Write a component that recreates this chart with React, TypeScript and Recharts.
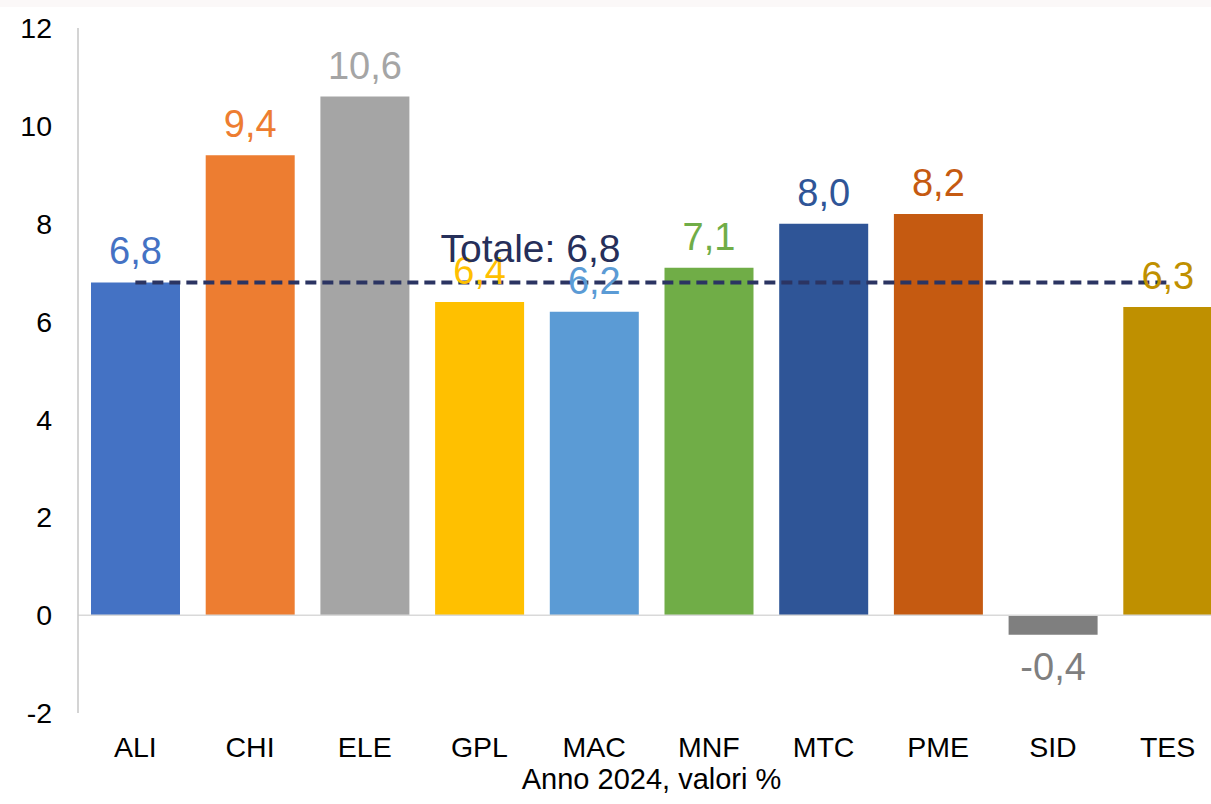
import React from "react";
import { ComposedChart, Bar, Line, Cell, XAxis, YAxis, ReferenceLine, LabelList } from "recharts";

const categories = ["ALI", "CHI", "ELE", "GPL", "MAC", "MNF", "MTC", "PME", "SID", "TES"];
const values = [6.8, 9.4, 10.6, 6.4, 6.2, 7.1, 8.0, 8.2, -0.4, 6.3];
const colors = ["#4472C4", "#ED7D31", "#A5A5A5", "#FFC000", "#5B9BD5", "#70AD47", "#2F5597", "#C55A11", "#7F7F7F", "#BF9000"];
const totale = 6.8;
const yTicks = [-2, 0, 2, 4, 6, 8, 10, 12];

const data = categories.map((name, i) => ({ name, value: values[i], totale }));

const FONT = "'Liberation Sans', Arial, sans-serif";
const fmt = (v: number) => v.toFixed(1).replace(".", ",");

function BarValueLabel(props: any) {
  const { x, y, width, height, value, index } = props;
  const top = Math.min(y, y + height);
  const bottom = Math.max(y, y + height);
  const cx = x + width / 2;
  const ty = value < 0 ? bottom + 45 : top - 18;
  return (
    <text x={cx} y={ty} textAnchor="middle" fontSize={38} fontFamily={FONT} fill={colors[index]}>
      {fmt(value)}
    </text>
  );
}

function TotaleLabel(props: any) {
  const { x, y, index } = props;
  if (index !== 3) return null;
  return (
    <text x={x + 51} y={y - 20} textAnchor="middle" fontSize={39} fontFamily={FONT} fill="#262F5A">
      {`Totale: ${fmt(totale)}`}
    </text>
  );
}

export default function App() {
  return (
    <div style={{ position: "absolute", left: 0, top: 0, width: 1211, height: 804, overflow: "hidden", background: "#fff" }}>
      <div style={{ position: "absolute", left: 0, top: 0, width: 1211, height: 7, background: "#fbf8f8" }} />
      <ComposedChart
        width={1225}
        height={804}
        data={data}
        margin={{ top: 28, right: 0, left: 0, bottom: 0 }}
        style={{ fontFamily: FONT }}
      >
        <XAxis
          dataKey="name"
          axisLine={false}
          tickLine={false}
          tickSize={0}
          tickMargin={24}
          height={91}
          interval={0}
          tick={{ fill: "#000", fontSize: 28.5, fontFamily: FONT }}
          label={{ value: "Anno 2024, valori %", position: "insideBottom", offset: 15, fill: "#000", fontSize: 29, fontFamily: FONT }}
        />
        <YAxis
          domain={[-2, 12]}
          ticks={yTicks}
          width={78}
          tickLine={false}
          tickSize={0}
          tickMargin={26}
          axisLine={{ stroke: "#c6c6c6", strokeWidth: 1.5 }}
          tick={{ fill: "#000", fontSize: 28.5, fontFamily: FONT }}
        />
        <ReferenceLine y={0} stroke="#d9d9d9" strokeWidth={1.5} />
        <Bar dataKey="value" barSize={89} isAnimationActive={false}>
          {data.map((d, i) => (
            <Cell key={d.name} fill={colors[i]} />
          ))}
          <LabelList dataKey="value" content={<BarValueLabel />} />
        </Bar>
        <Line
          dataKey="totale"
          stroke="#2B3462"
          strokeWidth={4}
          strokeDasharray="11 6"
          dot={false}
          activeDot={false}
          isAnimationActive={false}
          label={<TotaleLabel />}
        />
      </ComposedChart>
    </div>
  );
}
